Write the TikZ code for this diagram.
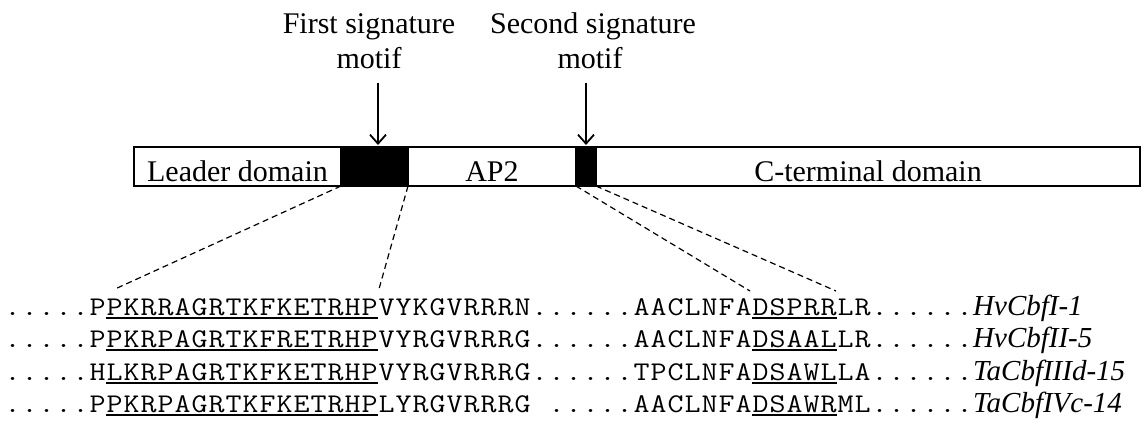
\documentclass[tikz,border=0pt]{standalone}
\usepackage{fontspec}
\usepackage{graphicx}
\setmainfont{Liberation Serif}
\usetikzlibrary{arrows.meta}
\newcommand\sequl[1]{\setbox0\hbox{#1}\rlap{\rule[-3.5pt]{\wd0}{1.5pt}}\box0}
\def\sqloop#1{\ifx\relax#1\else\makebox[17pt]{\scalebox{1.15}[1]{#1}}\expandafter\sqloop\fi}
\newcommand\sq[1]{\sqloop#1\relax}
\newcommand\seqgap{\makebox[17pt]{}}
\newcommand\gname[1]{{\rmfamily\itshape\fontsize{29}{34}\selectfont #1}}
\newcommand\seqfontsel{\ttfamily\fontsize{27}{32}\selectfont}
\begin{document}
\begin{tikzpicture}[x=1pt,y=-1pt]
\tikzset{
  seg/.style={draw, line width=1.6pt, minimum height=39pt, inner sep=0pt, outer sep=0pt, anchor=north west},
  motifbox/.style={seg, fill=black},
  lbl/.style={font=\fontsize{30}{36}\selectfont, inner sep=0pt, anchor=base},
  seqrow/.style={font=\seqfontsel, inner sep=0pt, anchor=base west},
  conn/.style={line width=1.2pt, dash pattern=on 6pt off 4pt},
  ptr/.style={-{Straight Barb[length=9pt,width=16pt]}, line width=1.8pt}
}
\useasboundingbox (0,0) rectangle (1144,437);
% bar
\node[seg, minimum width=207pt] (leader) at (134,147) {};
\node[motifbox, minimum width=67pt] (box1) at (341,147) {};
\node[seg, minimum width=168pt] (ap2) at (408,147) {};
\node[motifbox, minimum width=20pt] (box2) at (576,147) {};
\node[seg, minimum width=544pt] (cterm) at (596,147) {};
\node[lbl] (tleader) at ([yshift=4.5pt]leader.south) {Leader domain};
\node[lbl] (tap2) at ([yshift=4.5pt]ap2.south) {AP2};
\node[lbl] (tcterm) at ([yshift=4.5pt]cterm.south) {C-terminal domain};
% top labels
\node[lbl] (t1a) at (369,33) {First signature};
\node[lbl] (t1b) at (369,68) {motif};
\node[lbl] (t2a) at (593,33) {Second signature};
\node[lbl] (t2b) at (590,68) {motif};
\coordinate (a1) at (378,83);
\coordinate (a2) at (586,83);
\draw[ptr, shorten >=2pt] (a1) -- (a1 |- box1.north);
\draw[ptr, shorten >=2pt] (a2) -- (a2 |- box2.north);
% sequences
\node[seqrow] (r1) at (4,315) {\sq{.....P}\sequl{\sq{PKRRAGRTKFKETRHP}}\sq{VYKGVRRRN......AACLNFA}\sequl{\sq{DSPRR}}\sq{LR......}\gname{HvCbfI-1}};
\node[seqrow] (r2) at (4,347) {\sq{.....P}\sequl{\sq{PKRPAGRTKFRETRHP}}\sq{VYRGVRRRG......AACLNFA}\sequl{\sq{DSAAL}}\sq{LR......}\gname{HvCbfII-5}};
\node[seqrow] (r3) at (4,380) {\sq{.....H}\sequl{\sq{LKRPAGRTKFKETRHP}}\sq{VYRGVRRRG......TPCLNFA}\sequl{\sq{DSAWL}}\sq{LA......}\gname{TaCbfIIId-15}};
\node[seqrow] (r4) at (4,412) {\sq{.....P}\sequl{\sq{PKRPAGRTKFKETRHP}}\sq{LYRGVRRRG}\seqgap\sq{.....AACLNFA}\sequl{\sq{DSAWR}}\sq{ML......}\gname{TaCbfIVc-14}};
% connectors
\coordinate (e1) at (115,289);
\coordinate (e2) at (379,289);
\coordinate (e3) at (750,291);
\coordinate (e4) at (836,291);
\draw[conn] (box1.south west) -- (e1);
\draw[conn] (box1.south east) -- (e2);
\draw[conn] (box2.south west) -- (e3);
\draw[conn] (box2.south east) -- (e4);
\end{tikzpicture}
\end{document}
